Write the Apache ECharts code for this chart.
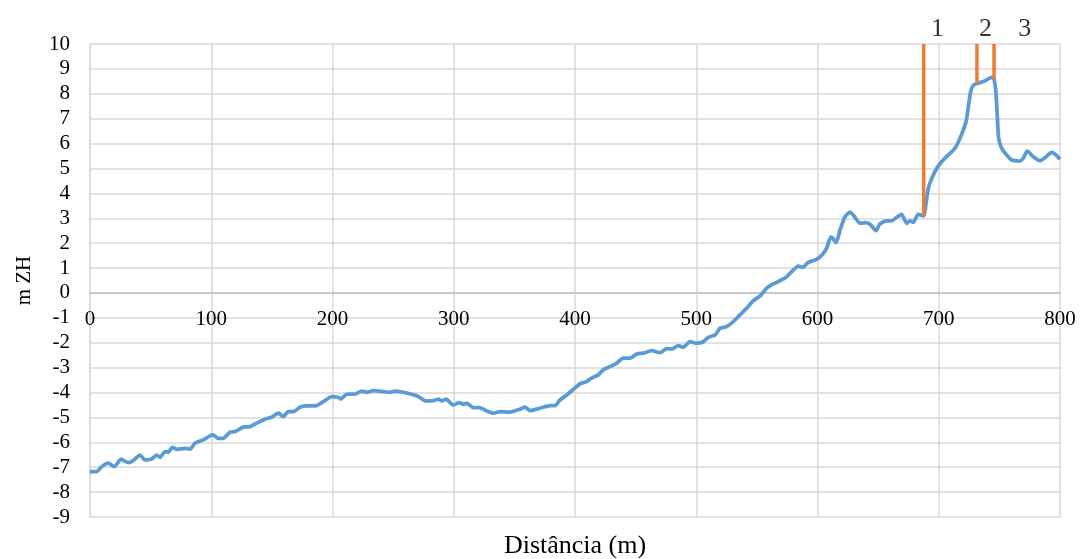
<!DOCTYPE html>
<html><head><meta charset="utf-8">
<script src="https://cdn.jsdelivr.net/npm/echarts/dist/echarts.min.js"></script>
<style>html,body{margin:0;padding:0;background:#fff}#c{width:1083px;height:559px}</style>
</head><body><div id="c"></div>
<script>
// Profile: distance (m) and elevation (m ZH)
const distance = [0,5.5,9.6,15,20,25.6,31.6,35.7,41.2,45.4,50.9,55,57.7,61.9,64.6,67.9,71.5,78.3,82.5,86.6,93.4,98.9,101.5,105.8,109.9,115.5,119.6,126.4,132,137.5,144.3,149.9,155.3,159.4,163.5,167.7,173.2,178.7,185.6,192.4,199.3,204.8,206.8,211.7,218.6,224.1,228.2,233.7,241.9,247.4,251.5,258.4,265.3,270.8,277.1,283.1,287.3,290.1,293.6,299.6,304.6,307.9,310.7,316.1,321.1,327.2,332.6,338.1,346.4,354.6,358.8,362.9,371.1,379.4,383.5,387.6,393.2,398,404,409,414,419,423.3,428.9,434.4,439.8,445.4,450.9,456.3,463.3,470.1,475.6,479.8,485.2,489.3,494.8,500.4,505.8,510,515.5,519.6,525.1,530.6,536.1,541.6,547.1,552.6,558.1,563.5,569.1,574.6,580,584.2,587.8,592.4,596.5,600.7,604.8,607.6,610.9,612.5,615.3,618.6,622.7,626.8,629.5,635.1,639.2,643.3,648.2,651.5,657.1,661.2,665.3,669.4,673.6,676.3,679,683.1,687.6,689.5,691.4,694.2,698.3,702.4,709.3,713.4,717.5,722.5,724.4,726.3,728.5,731.8,736.8,743.7,745.6,747.2,748.3,749.4,751.9,756,760.2,767,769.7,773,778,783.5,787.6,793.1,796.7,800];
const elevation = [-7.18,-7.18,-6.98,-6.84,-6.98,-6.68,-6.82,-6.73,-6.51,-6.71,-6.67,-6.51,-6.6,-6.37,-6.4,-6.2,-6.28,-6.24,-6.27,-6.04,-5.9,-5.74,-5.7,-5.84,-5.84,-5.59,-5.57,-5.39,-5.37,-5.23,-5.07,-4.99,-4.83,-4.97,-4.77,-4.77,-4.59,-4.54,-4.54,-4.37,-4.16,-4.19,-4.26,-4.07,-4.06,-3.94,-3.99,-3.92,-3.96,-3.99,-3.94,-3.99,-4.07,-4.16,-4.34,-4.33,-4.27,-4.34,-4.27,-4.5,-4.41,-4.47,-4.43,-4.61,-4.61,-4.74,-4.83,-4.77,-4.79,-4.67,-4.59,-4.73,-4.63,-4.53,-4.53,-4.3,-4.1,-3.9,-3.65,-3.57,-3.41,-3.3,-3.09,-2.96,-2.82,-2.62,-2.62,-2.45,-2.42,-2.32,-2.4,-2.24,-2.25,-2.12,-2.18,-1.96,-2.02,-1.96,-1.78,-1.69,-1.42,-1.35,-1.15,-0.88,-0.61,-0.31,-0.12,0.19,0.36,0.49,0.65,0.92,1.08,1.03,1.23,1.3,1.39,1.59,1.8,2.24,2.2,2.02,2.53,3.06,3.24,3.13,2.8,2.82,2.76,2.5,2.77,2.9,2.9,3.04,3.16,2.8,2.9,2.84,3.16,3.1,3.6,4.2,4.6,5.0,5.27,5.61,5.81,6.21,6.88,7.48,8.08,8.35,8.42,8.49,8.66,8.58,8.02,7.08,6.21,5.81,5.54,5.34,5.3,5.41,5.7,5.47,5.31,5.43,5.65,5.54,5.37];

// Vertical markers 1, 2, 3
const markerNames = ['1','2','3'];
const markerDistance = [687.6, 731.5, 745.6];
const markerBase = [3.1, 8.42, 8.58];
const markerTop = 10;
const markerLabelDistance = [699, 738.6, 771];
const markerLabelHeight = 10.58;

// Axes
const xMin = 0, xMax = 800, xStep = 100;
const yMin = -9, yMax = 10, yStep = 1;
const xTitle = 'Distância (m)';
const yTitle = 'm ZH';

const FONT = "'Liberation Serif','Times New Roman',serif";
const GRID = { left: 90, right: 23, top: 44, bottom: 42, containLabel: false, outerBoundsMode: 'none' };
const chart = echarts.init(document.getElementById('c'));
const plotH = 559 - GRID.top - GRID.bottom;
// lift the labelled x axis from the plot bottom to the y = 0 line
const zeroOffset = -plotH * (0 - yMin) / (yMax - yMin);

const profile = distance.map((d, i) => [d, elevation[i]]);
const markerSeries = markerDistance.map((d, i) => ({
  type: 'line', name: 'marker' + markerNames[i],
  data: [[d, markerTop], [d, markerBase[i]]],
  symbol: 'none', z: 5,
  lineStyle: { color: '#ED7D31', width: 3.5 }
}));

chart.setOption({
  animation: false,
  backgroundColor: '#fff',
  grid: GRID,
  xAxis: [{
    type: 'value', min: xMin, max: xMax, interval: xStep, position: 'bottom',
    offset: zeroOffset,
    axisLine: { onZero: false, lineStyle: { color: '#bfbfbf', width: 1.5 } },
    axisTick: { show: false },
    axisLabel: { color: '#000', fontFamily: FONT, fontSize: 21, margin: 16 },
    splitLine: { show: true, lineStyle: { color: '#d9d9d9', width: 1.5 } }
  }, {
    type: 'value', min: xMin, max: xMax, position: 'bottom',
    axisLine: { show: false, onZero: false }, axisTick: { show: false },
    axisLabel: { show: false }, splitLine: { show: false },
    name: xTitle, nameLocation: 'middle', nameGap: 16,
    nameTextStyle: { color: '#000', fontFamily: FONT, fontSize: 26 }
  }],
  yAxis: {
    type: 'value', min: yMin, max: yMax, interval: yStep,
    axisLine: { show: true, lineStyle: { color: '#d9d9d9', width: 1.5 } },
    axisTick: { show: false },
    axisLabel: { color: '#000', fontFamily: FONT, fontSize: 21, margin: 20 },
    splitLine: { show: true, lineStyle: { color: '#d9d9d9', width: 1.5 } },
    name: yTitle, nameLocation: 'middle', nameRotate: 90, nameGap: 55,
    nameTextStyle: { color: '#000', fontFamily: FONT, fontSize: 21 }
  },
  series: [{
    type: 'line', name: 'perfil', data: profile, symbol: 'none', smooth: 0.2, z: 3,
    lineStyle: { color: '#5B9BD5', width: 3.75 }
  }].concat(markerSeries, [{
    type: 'scatter', name: 'labels', clip: false, z: 6,
    data: markerLabelDistance.map((d, i) => ({ value: [d, markerLabelHeight], name: markerNames[i] })),
    symbolSize: 1, itemStyle: { color: 'rgba(0,0,0,0)' },
    label: { show: true, position: 'inside', formatter: p => p.name, color: '#000', fontFamily: FONT, fontSize: 26 }
  }])
});
</script></body></html>
